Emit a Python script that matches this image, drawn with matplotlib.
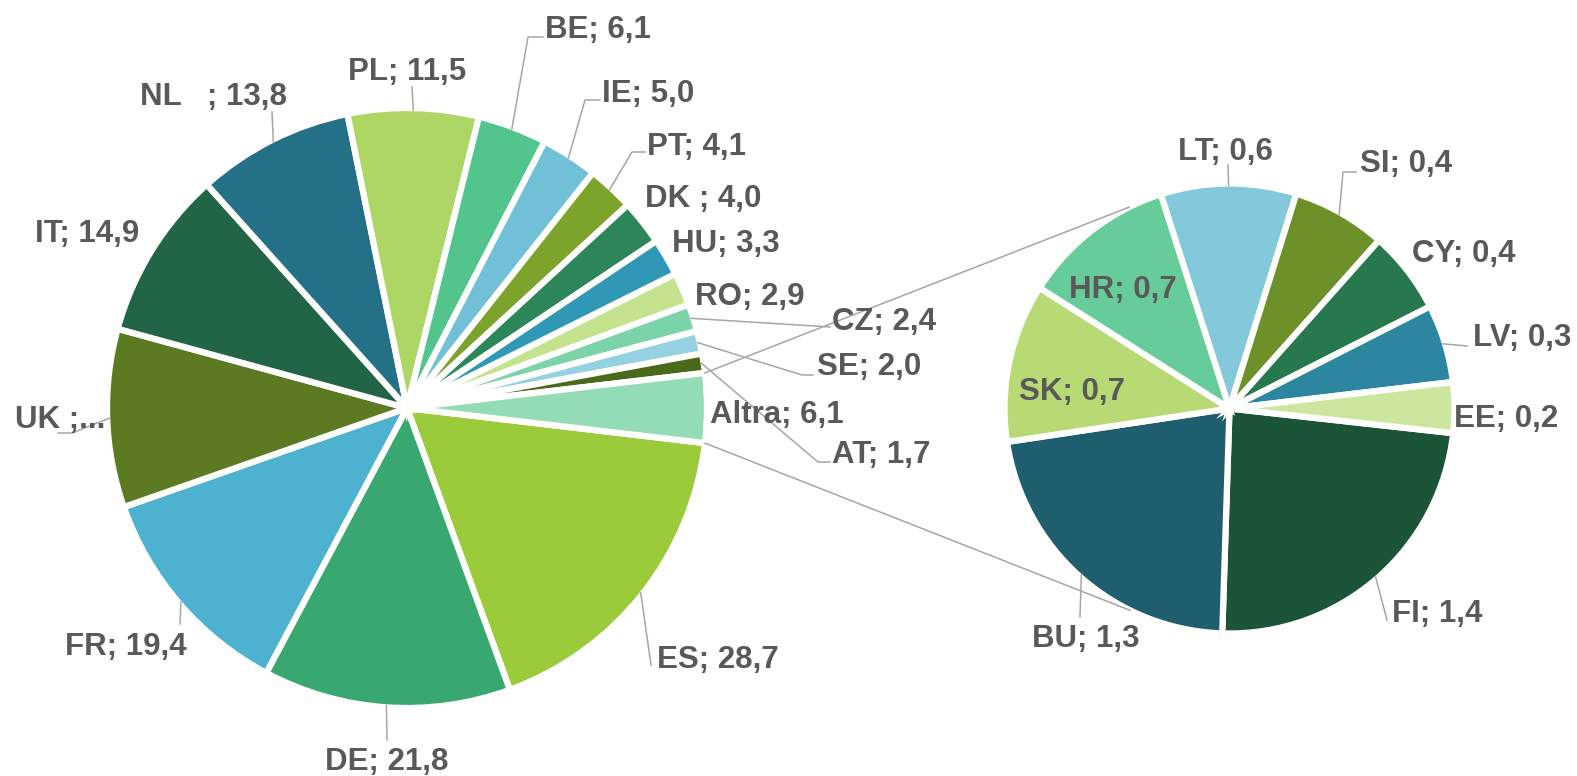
import numpy as np
import matplotlib.pyplot as plt

plt.rcParams['font.family'] = ['Liberation Sans', 'DejaVu Sans']

# torta principale, in senso orario a partire da ES
main_labels = ['ES', 'DE', 'FR', 'UK ', 'IT', 'NL   ', 'PL', 'BE', 'IE', 'PT',
               'DK ', 'HU', 'RO', 'CZ', 'SE', 'AT', 'Altra']
main_values = [28.7, 21.8, 19.4, 15.7, 14.9, 13.8, 11.5, 6.1, 5.0, 4.1,
               4.0, 3.3, 2.9, 2.4, 2.0, 1.7, 6.1]

# torta secondaria (dettaglio di "Altra"), stimata dagli angoli delle fette
sub_labels = ['FI', 'BU', 'SK', 'HR', 'LT', 'SI', 'CY', 'LV', 'EE']
sub_values = [1.44, 1.34, 0.69, 0.67, 0.59, 0.41, 0.36, 0.34, 0.22]

main_colors = ['#9BCB3B', '#38A870', '#4DB2CF', '#5C7A22', '#226546', '#237087',
               '#AED664', '#51C58B', '#72C0D8', '#7DA42A', '#2C8659', '#3197B7',
               '#C5E28D', '#7BD3AA', '#94D1E3', '#4A6A1A', '#93DCB5']
sub_colors = ['#1C5438', '#1F5E6E', '#B8DA74', '#66CC99', '#84C9DB',
              '#6D9128', '#27784F', '#2C86A0', '#CCE6A0']

W, H = 1577, 776
GREY = '#595959'
LINE = '#A6A6A6'


def P(x, y):
    # coordinate "immagine" (y verso il basso) -> coordinate dati
    return x, H - y


# posizione etichette (sinistra, baseline) e gomiti delle linee guida
main_lab_pos = [(657, 668), (325, 770), (65, 655), (15, 428), (35, 242),
                (140, 105), (348, 80), (545, 38), (602, 102), (647, 155),
                (645, 207), (672, 252), (695, 305), (832, 330), (817, 375),
                (832, 463), (710, 423)]
main_leaders = [[(651, 665)], [(387, 740)], [(180, 624)], [(72, 433), (58, 433)],
                [], [(272, 112)], [(412, 87)], [(528, 37), (543, 37)],
                [(585, 100), (600, 100)], [(632, 152), (645, 152)], [], [], [],
                [(830, 327)], [(802, 375), (813, 375)], [(818, 462), (830, 462)], []]
sub_lab_pos = [(1392, 622), (1032, 647), (1019, 400), (1069, 298), (1178, 160),
               (1360, 172), (1412, 262), (1473, 346), (1454, 427)]
sub_leaders = [[(1387, 620)], [(1080, 617)], [], [], [(1228, 165)],
               [(1343, 172), (1356, 172)], [], [(1467, 346)], []]

fig = plt.figure(figsize=(W / 100, H / 100), dpi=100)
ax = fig.add_axes([0, 0, 1, 1])

c1, r1 = P(407, 408), 300
c2, r2 = P(1229.5, 408.5), 225
wp = dict(edgecolor='white', linewidth=4.5)

altra_deg = main_values[-1] / sum(main_values) * 360
w1, _ = ax.pie(main_values, colors=main_colors, startangle=-altra_deg / 2,
               counterclock=False, center=c1, radius=r1, wedgeprops=wp)
w2, _ = ax.pie(sub_values, colors=sub_colors, startangle=-6.3,
               counterclock=False, center=c2, radius=r2, wedgeprops=wp)


def fmt(lab, v):
    return f"{lab}; {v:.1f}".replace('.', ',')


def draw_labels(wedges, labels, values, positions, leaders, center, r):
    for i, w in enumerate(wedges):
        txt = fmt(labels[i], values[i])
        if labels[i] == 'UK ':
            txt = 'UK ;...'   # etichetta troncata come nell'originale
        x, y = P(*positions[i])
        ax.text(x, y, txt, ha='left', va='baseline', fontsize=22.5,
                fontweight='bold', color=GREY, zorder=5)
        if leaders[i]:
            a = np.deg2rad((w.theta1 + w.theta2) / 2)
            xs = [center[0] + (r - 2) * np.cos(a)]
            ys = [center[1] + (r - 2) * np.sin(a)]
            for px, py in leaders[i]:
                qx, qy = P(px, py)
                xs.append(qx)
                ys.append(qy)
            ax.plot(xs, ys, color=LINE, lw=1.1, zorder=4)


draw_labels(w1, main_labels, main_values, main_lab_pos, main_leaders, c1, r1)
draw_labels(w2, sub_labels, sub_values, sub_lab_pos, sub_leaders, c2, r2)

# linee di collegamento tra "Altra" e la torta secondaria
altra = w1[-1]
for t_main, t_sub in [(altra.theta2, 116.5), (altra.theta1, -116.2)]:
    a, b = np.deg2rad(t_main), np.deg2rad(t_sub)
    ax.plot([c1[0] + r1 * np.cos(a), c2[0] + r2 * np.cos(b)],
            [c1[1] + r1 * np.sin(a), c2[1] + r2 * np.sin(b)],
            color=LINE, lw=1.1, zorder=4)

ax.set_xlim(0, W)
ax.set_ylim(0, H)
ax.set_aspect('equal')
ax.axis('off')

fig.savefig('out.png', dpi=100, facecolor='white')
